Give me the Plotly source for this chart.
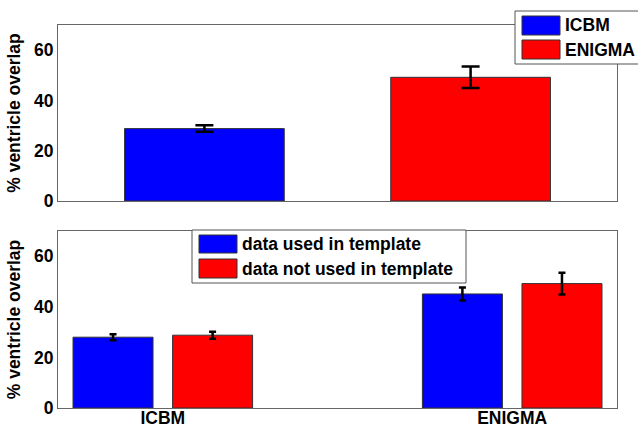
import plotly.graph_objects as go
from plotly.subplots import make_subplots

# Top panel: overall overlap per template
templates = ["ICBM", "ENIGMA"]
overall_mean = [28.8, 49.2]
overall_err = [1.3, 4.3]
template_colors = ["#0000FF", "#FF0000"]

# Bottom panel: split by whether subjects were part of the template
split_names = ["data used in template", "data not used in template"]
used_mean = [28.0, 45.1]
used_err = [1.2, 2.6]
notused_mean = [28.8, 49.2]
notused_err = [1.4, 4.3]
split_colors = ["#0000FF", "#FF0000"]

y_ticks = [0, 20, 40, 60]
y_title = "% ventricle overlap"

FONT = dict(family="Liberation Sans, Arial, sans-serif", size=17.5, color="#000000", weight="bold")
W, H = 638, 428
ML, MR, MT, MB = 58, 21, 25, 20

fig = make_subplots(rows=2, cols=1, vertical_spacing=0.0)

bar_line = dict(color="#333333", width=1)

# top: one bar per template, explicit width/offset so they stay centred
for i, (name, m, e, c) in enumerate(zip(templates, overall_mean, overall_err, template_colors)):
    fig.add_trace(go.Bar(
        x=[i + 1], y=[m], name=name, width=0.6, offset=-0.3,
        marker=dict(color=c, line=bar_line),
        error_y=dict(type="data", array=[e], color="black", thickness=2.5, width=9),
        showlegend=False,
    ), row=1, col=1)

# bottom: two bars per template
bw, sep = 0.229, 0.285
for k, (name, means, errs, c) in enumerate(zip(split_names, [used_mean, notused_mean],
                                                 [used_err, notused_err], split_colors)):
    centre_shift = (k - 0.5) * sep
    fig.add_trace(go.Bar(
        x=[1, 2], y=means, name=name, width=bw, offset=centre_shift - bw / 2,
        marker=dict(color=c, line=bar_line),
        error_y=dict(type="data", array=errs, color="black", thickness=2.5, width=3.5),
        showlegend=False,
    ), row=2, col=1)

top_bottom_px, bot_top_px = 201, 231
plot_h = H - MT - MB
dom_top = [(H - MB - top_bottom_px) / plot_h, 1.0]
dom_bot = [0.0, (H - MB - bot_top_px) / plot_h]

axis_common = dict(showgrid=False, zeroline=False, showline=True, linecolor="#666666",
                   linewidth=1, mirror=True, ticks="", tickfont=FONT)

fig.update_xaxes(**axis_common)
fig.update_yaxes(**axis_common)
fig.update_layout(
    xaxis=dict(range=[0.45, 2.55], showticklabels=False, domain=[0, 1]),
    xaxis2=dict(range=[0.7, 2.3], tickvals=[1, 2], ticktext=templates, domain=[0, 1],
                ticklabelstandoff=-6),
    yaxis=dict(range=[0, 70], tickvals=y_ticks, domain=dom_top,
               title=dict(text=y_title, font=FONT, standoff=8)),
    yaxis2=dict(range=[0, 70], tickvals=y_ticks, domain=dom_bot,
                title=dict(text=y_title, font=FONT, standoff=8)),
    width=W, height=H,
    margin=dict(l=ML, r=MR, t=MT, b=MB, autoexpand=False),
    paper_bgcolor="white", plot_bgcolor="white",
    font=FONT, barmode="overlay",
)

pw = W - ML - MR


def px(xp):
    return (xp - ML) / pw


def py(yp):
    return (H - MB - yp) / plot_h


# legend boxes with swatches
def legend_box(x0, y0, x1, y1, rows, labels, colors):
    fig.add_shape(type="rect", xref="paper", yref="paper",
                  x0=px(x0), x1=px(x1), y0=py(y1), y1=py(y0),
                  line=dict(color="#555555", width=1), fillcolor="white", layer="above")
    for (sy0, sy1), lab, col in zip(rows, labels, colors):
        fig.add_shape(type="rect", xref="paper", yref="paper",
                      x0=px(x0 + 7), x1=px(x0 + 45), y0=py(sy1), y1=py(sy0),
                      line=dict(color="#333333", width=1), fillcolor=col, layer="above")
        fig.add_annotation(xref="paper", yref="paper", x=px(x0 + 48), y=py((sy0 + sy1) / 2),
                           text=lab, showarrow=False, xanchor="left", yanchor="middle",
                           font=FONT)


legend_box(515, 11, 660, 64, [(16, 35), (40, 59)], templates, template_colors)
legend_box(192, 230, 466, 283, [(235, 253), (259, 278)], split_names, split_colors)

fig.write_html("out.html")
